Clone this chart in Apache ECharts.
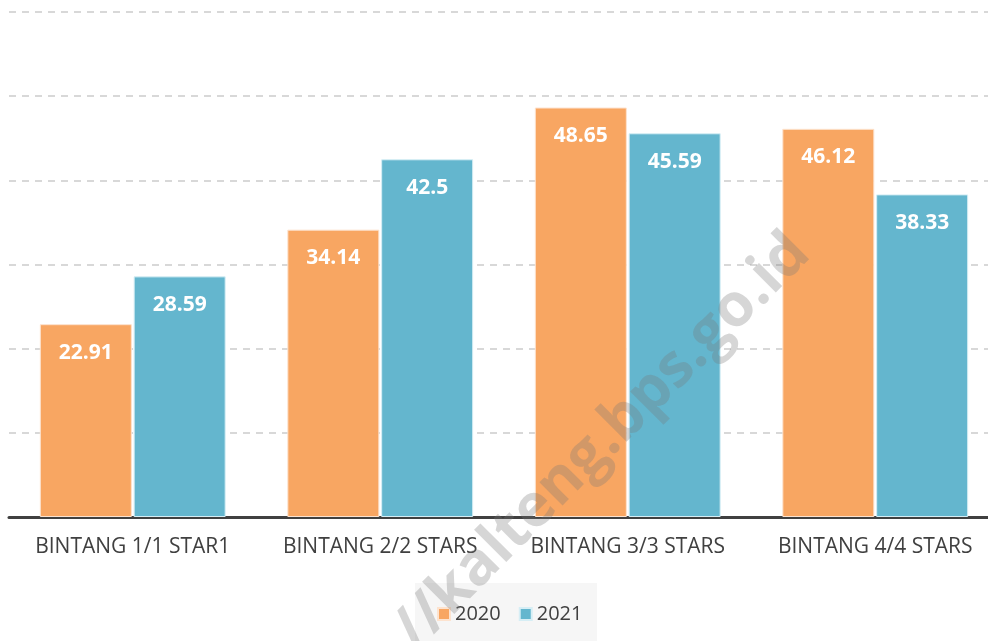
<!DOCTYPE html>
<html>
<head>
<meta charset="utf-8">
<script src="https://cdn.jsdelivr.net/npm/echarts@6/dist/echarts.min.js"></script>
<style>
  html, body { margin: 0; padding: 0; background: #fff; }
  #chart { width: 988px; height: 641px; }
</style>
</head>
<body>
<div id="chart"></div>
<script>
const categories = ['BINTANG 1/1 STAR1', 'BINTANG 2/2 STARS', 'BINTANG 3/3 STARS', 'BINTANG 4/4 STARS']
const values2020 = [22.91, 34.14, 48.65, 46.12]
const values2021 = [28.59, 42.5, 45.59, 38.33]

const font = 'Open Sans'

const chart = echarts.init(document.getElementById('chart'))

const barLabel = {
  show: true,
  position: 'insideTop',
  distance: 18,
  color: '#fff',
  fontWeight: 'bold',
  fontSize: 21,
  fontFamily: font
}

chart.setOption({
  animation: false,
  grid: {
    top: 12,
    left: 9,
    right: -11,
    bottom: 124,
    outerBoundsMode: 'none'
  },
  legend: {
    bottom: 12,
    left: 432,
    itemWidth: 12,
    itemHeight: 12,
    itemGap: 18,
    icon: 'rect',
    textStyle: { color: '#404040', fontSize: 20, fontFamily: font },
    data: ['2020', '2021']
  },
  graphic: [
    {
      type: 'rect',
      left: 415,
      top: 583,
      shape: { width: 182, height: 58 },
      style: { fill: '#f6f6f6' },
      z: -10
    },
    {
      type: 'text',
      x: 602,
      y: 442,
      rotation: Math.PI / 4,
      style: {
        text: '//kalteng.bps.go.id',
        fill: 'rgba(120,120,120,0.3)',
        font: 'bold 60px "Open Sans"',
        align: 'center',
        verticalAlign: 'middle'
      },
      z: 100
    }
  ],
  xAxis: {
    type: 'category',
    data: categories,
    axisTick: { show: false },
    axisLine: { lineStyle: { color: '#404040', width: 3 } },
    axisLabel: { color: '#404040', fontSize: 21, fontFamily: font, margin: 20, interval: 0 }
  },
  yAxis: {
    type: 'value',
    min: 0,
    max: 60,
    interval: 10,
    axisLabel: { show: false },
    axisLine: { show: false },
    axisTick: { show: false },
    splitLine: { lineStyle: { color: '#cccccc', type: [7, 6], width: 1.5 } }
  },
  series: [
    {
      name: '2020',
      type: 'bar',
      data: values2020,
      barWidth: 92,
      barGap: '2%',
      itemStyle: { color: '#F8A662', borderColor: '#fde3cf', borderWidth: 1 },
      label: barLabel
    },
    {
      name: '2021',
      type: 'bar',
      data: values2021,
      barWidth: 92,
      itemStyle: { color: '#64B6CE', borderColor: '#d6eef5', borderWidth: 1 },
      label: barLabel
    }
  ]
})
</script>
</body>
</html>
